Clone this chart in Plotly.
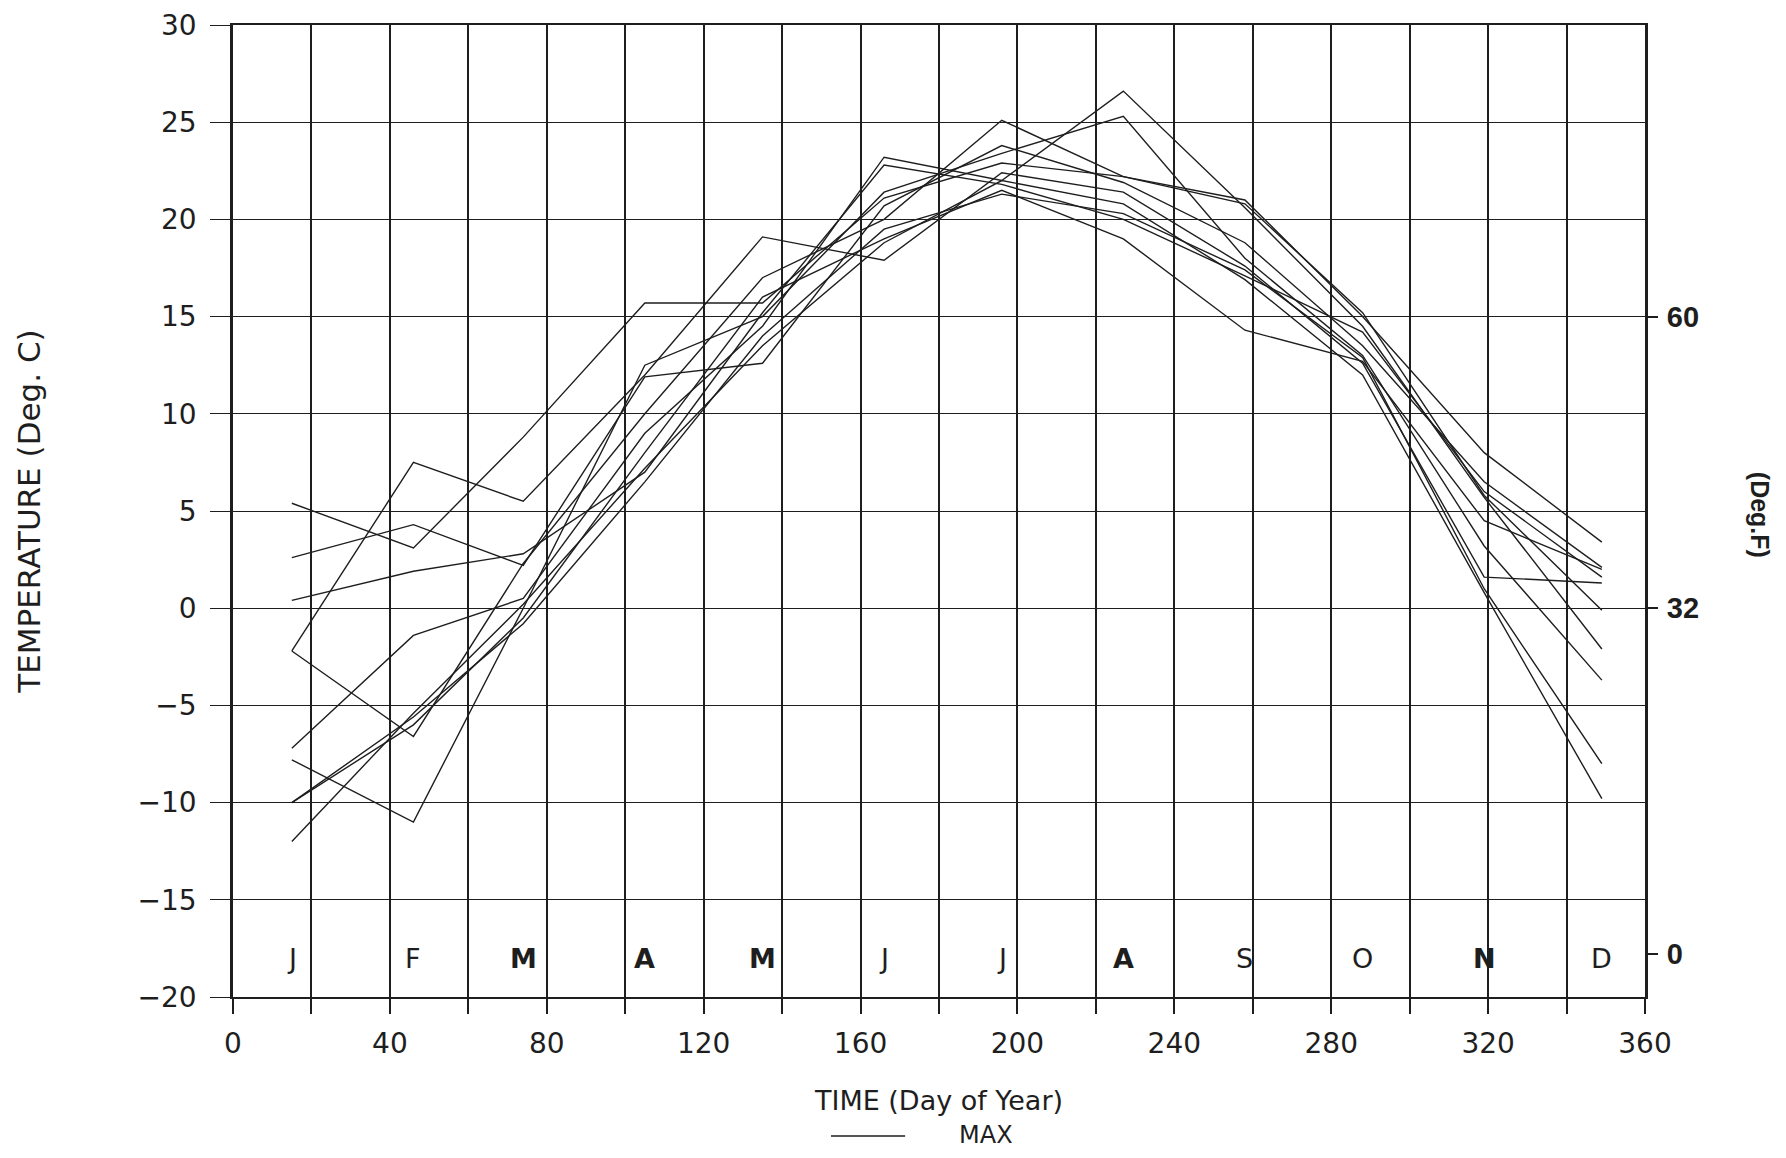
import plotly.graph_objects as go

days = [15, 46, 74, 105, 135, 166, 196, 227, 258, 288, 319, 349]

s1 = [5.4, 3.1, 8.8, 15.7, 15.7, 21.1, 22.9, 22.2, 21.0, 15.0, 8.0, 3.4]
s2 = [2.6, 4.3, 2.2, 11.9, 12.6, 20.7, 23.8, 21.9, 18.8, 13.5, 6.5, 2.1]
s3 = [0.4, 1.9, 2.8, 7.0, 15.2, 22.8, 21.8, 20.0, 17.1, 14.2, 6.0, 1.6]
s4 = [-2.2, 7.5, 5.5, 12.0, 19.1, 17.9, 22.4, 21.4, 17.6, 12.6, 1.6, 1.3]
s5 = [-2.2, -6.6, 2.3, 10.0, 17.0, 20.0, 25.1, 22.2, 20.8, 15.2, 5.8, -0.1]
s6 = [-7.2, -1.4, 0.5, 9.0, 14.5, 23.2, 22.0, 26.6, 20.6, 14.5, 5.7, -2.1]
s7 = [-7.8, -11.0, 0.0, 12.5, 15.0, 21.4, 23.4, 25.3, 18.0, 13.0, 3.2, -3.7]
s8 = [-10.0, -5.6, -0.8, 6.5, 14.0, 19.5, 21.3, 20.3, 17.4, 12.9, 1.0, -8.0]
s9 = [-12.0, -5.4, 0.2, 7.2, 13.5, 18.8, 22.0, 20.8, 16.9, 12.0, 0.8, -9.8]
s10 = [-10.0, -6.0, -0.5, 8.0, 16.0, 19.0, 21.5, 19.0, 14.3, 12.7, 4.5, 2.0]

series = [s1, s2, s3, s4, s5, s6, s7, s8, s9, s10]

month_letters = ["J", "F", "M", "A", "M", "J", "J", "A", "S", "O", "N", "D"]
month_bold = [False, False, True, True, True, False, False, True, False, False, True, False]
month_label_y = -18

x_ticks = [0, 40, 80, 120, 160, 200, 240, 280, 320, 360]
y_ticks = [30, 25, 20, 15, 10, 5, 0, -5, -10, -15, -20]
f_tick_pos = [15, 0, -17.8]
f_tick_text = ["60", "32", "0"]
legend_label = "MAX"

INK = "#1e1e1e"
FONT = "DejaVu Sans"

fig = go.Figure()
for i, s in enumerate(series):
    fig.add_trace(go.Scatter(
        x=days, y=s, mode="lines",
        line=dict(color=INK, width=1.4),
        name=legend_label, showlegend=False,
        hoverinfo="skip",
    ))

# invisible trace to activate right axis
fig.add_trace(go.Scatter(x=[0], y=[0], yaxis="y2", mode="lines",
                         line=dict(width=0), showlegend=False, hoverinfo="skip"))

for d, m, b in zip(days, month_letters, month_bold):
    fig.add_annotation(x=d, y=month_label_y, text=("<b>%s</b>" % m) if b else m,
                       showarrow=False, font=dict(family=FONT, size=27, color=INK))

# legend key drawn below the axis title
fig.add_shape(type="line", xref="paper", yref="paper", x0=0.4235, x1=0.476,
              y0=-0.143, y1=-0.143, line=dict(color=INK, width=1.4))
fig.add_annotation(xref="paper", yref="paper", x=0.533, y=-0.1585, text=legend_label,
                   showarrow=False, xanchor="center", yanchor="bottom",
                   font=dict(family=FONT, size=24, color=INK))

# right-hand axis title
fig.add_annotation(xref="paper", yref="paper", x=1.0815, y=0.496, text="<b>(Deg.F)</b>",
                   textangle=90, showarrow=False, xanchor="center", yanchor="middle",
                   font=dict(family="Liberation Sans", size=25, color=INK))

fig.update_layout(
    width=1770, height=1142,
    paper_bgcolor="white", plot_bgcolor="white",
    margin=dict(l=225, r=133, t=17, b=153),
    font=dict(family=FONT, size=28, color=INK),
    showlegend=False,
    xaxis=dict(
        range=[0, 360], tickvals=x_ticks, ticktext=[str(v) for v in x_ticks],
        showgrid=True, gridcolor=INK, gridwidth=2,
        ticks="outside", ticklen=15, tickcolor=INK, tickwidth=1.5,
        minor=dict(dtick=20, tick0=0, showgrid=True, gridcolor=INK, gridwidth=2,
                   ticks="outside", ticklen=15, tickcolor=INK),
        showline=True, linecolor=INK, linewidth=2, mirror=True,
        zeroline=False, automargin=False,
        tickfont=dict(family=FONT, size=28, color=INK),
        ticklabelstandoff=5,
        title=dict(text="TIME (Day of Year)", font=dict(family=FONT, size=27, color=INK),
                   standoff=33),
    ),
    yaxis=dict(
        range=[-20, 30], tickvals=y_ticks,
        showgrid=True, gridcolor=INK, gridwidth=1.3,
        ticks="outside", ticklen=20, tickcolor=INK, tickwidth=1.2,
        showline=True, linecolor=INK, linewidth=2.5, mirror=True,
        zeroline=False, automargin=False,
        tickfont=dict(family=FONT, size=28, color=INK),
        ticklabelstandoff=8, ticklabeloverflow="allow",
        title=dict(text="TEMPERATURE (Deg. C)", font=dict(family=FONT, size=31, color=INK),
                   standoff=88),
    ),
    yaxis2=dict(
        range=[-20, 30], overlaying="y", side="right",
        tickvals=f_tick_pos, ticktext=f_tick_text,
        showgrid=False, zeroline=False, showline=False, automargin=False,
        ticks="outside", ticklen=12, tickcolor=INK, tickwidth=1.5,
        tickfont=dict(family="Liberation Sans", size=29, color=INK, weight="bold"),
        ticklabelstandoff=3,
    ),
)

fig.write_html("out.html")
